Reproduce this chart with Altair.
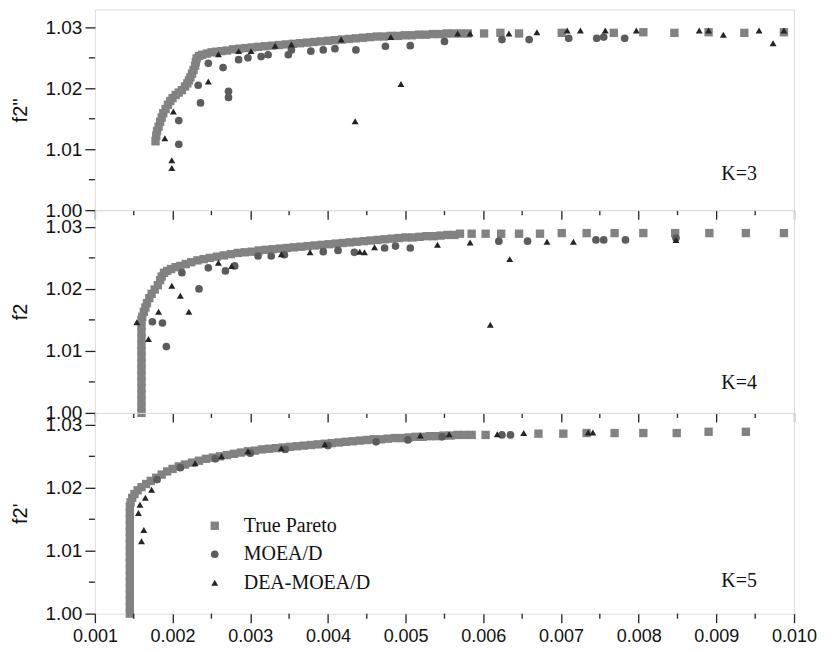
import altair as alt
import pandas as pd

SERIES = ["True Pareto", "MOEA/D", "DEA-MOEA/D"]

x_major = [0.001, 0.002, 0.003, 0.004, 0.005, 0.006, 0.007, 0.008, 0.009, 0.010]
x_minor = [0.0015, 0.0025, 0.0035, 0.0045, 0.0055, 0.0065, 0.0075, 0.0085, 0.0095]
y_major = [1.00, 1.01, 1.02, 1.03]
y_minor = [1.005, 1.015, 1.025]

# ---------------- K = 3 ----------------
k3_pareto = [
    (0.00178, 1.0113), (0.00179, 1.0122), (0.00180, 1.0130), (0.00182, 1.0137), (0.00184, 1.0145),
    (0.00186, 1.0152), (0.00188, 1.0159), (0.00191, 1.0166), (0.00194, 1.0173), (0.00197, 1.0179),
    (0.00200, 1.0184), (0.00204, 1.0189), (0.00208, 1.0193), (0.00212, 1.0197), (0.00216, 1.0203),
    (0.00219, 1.0208), (0.00221, 1.0213), (0.00223, 1.0218), (0.00225, 1.0224), (0.00227, 1.0230),
    (0.00229, 1.0237), (0.00230, 1.0243), (0.00231, 1.0249), (0.00234, 1.0253), (0.00238, 1.0255),
    (0.00244, 1.0257), (0.00250, 1.0259), (0.00256, 1.0260), (0.00263, 1.0261), (0.00270, 1.0262),
    (0.00278, 1.0264), (0.00286, 1.0265), (0.00294, 1.0266), (0.00302, 1.0267), (0.00310, 1.0268),
    (0.00319, 1.0269), (0.00328, 1.0270), (0.00337, 1.0271), (0.00346, 1.0272), (0.00355, 1.0273),
    (0.00364, 1.0274), (0.00373, 1.0275), (0.00382, 1.0276), (0.00391, 1.0277), (0.00400, 1.0278),
    (0.00409, 1.0279), (0.00418, 1.0280), (0.00427, 1.0281), (0.00436, 1.0282), (0.00445, 1.0283),
    (0.00454, 1.0284), (0.00463, 1.0285), (0.00472, 1.0285), (0.00481, 1.0286), (0.00490, 1.0286),
    (0.00499, 1.0287), (0.00508, 1.0287), (0.00517, 1.0288), (0.00526, 1.0288), (0.00535, 1.0289),
    (0.00544, 1.0289), (0.00553, 1.0290), (0.00562, 1.0290), (0.00571, 1.0290), (0.00580, 1.0290),
    (0.00601, 1.0290), (0.00622, 1.0291), (0.00646, 1.0290), (0.00701, 1.0291), (0.00768, 1.0291),
    (0.00806, 1.0292), (0.00846, 1.0291), (0.00890, 1.0292), (0.00936, 1.0291), (0.00987, 1.0292),
]
k3_moead = [
    (0.00208, 1.0108), (0.00208, 1.0147), (0.00236, 1.0176), (0.00233, 1.0205), (0.00246, 1.0241),
    (0.00265, 1.0234), (0.00272, 1.0195), (0.00272, 1.0185), (0.00285, 1.0247), (0.00297, 1.0250),
    (0.00314, 1.0252), (0.00323, 1.0255), (0.00349, 1.0255), (0.00353, 1.0263), (0.00378, 1.0261),
    (0.00394, 1.0263), (0.00409, 1.0265), (0.00436, 1.0263), (0.00474, 1.0269), (0.00506, 1.0270),
    (0.00550, 1.0277), (0.00624, 1.0280), (0.00659, 1.0280), (0.00710, 1.0282), (0.00746, 1.0282),
    (0.00755, 1.0284), (0.00782, 1.0282),
]
k3_dea = [
    (0.00199, 1.0069), (0.00199, 1.0082), (0.00190, 1.0118), (0.00201, 1.0162), (0.00246, 1.0211),
    (0.00259, 1.0256), (0.00285, 1.0261), (0.00301, 1.0261), (0.00332, 1.0270), (0.00353, 1.0272),
    (0.00417, 1.0280), (0.00435, 1.0146), (0.00481, 1.0284), (0.00494, 1.0207), (0.00567, 1.0290),
    (0.00583, 1.0290), (0.00633, 1.0290), (0.00669, 1.0292), (0.00708, 1.0295), (0.00725, 1.0295),
    (0.00757, 1.0295), (0.00797, 1.0295), (0.00878, 1.0295), (0.00890, 1.0295), (0.00909, 1.0288),
    (0.00955, 1.0295), (0.00973, 1.0274), (0.00987, 1.0295),
]

# ---------------- K = 4 ----------------
k4_pareto = [
    (0.00160, 1.0000), (0.00160, 1.0010), (0.00160, 1.0020), (0.00160, 1.0030), (0.00160, 1.0040),
    (0.00160, 1.0050), (0.00160, 1.0060), (0.00160, 1.0070), (0.00160, 1.0080), (0.00160, 1.0090),
    (0.00160, 1.0100), (0.00160, 1.0110), (0.00160, 1.0120), (0.00160, 1.0130), (0.00160, 1.0140),
    (0.00160, 1.0150), (0.00161, 1.0155), (0.00163, 1.0163), (0.00165, 1.0170), (0.00167, 1.0177),
    (0.00170, 1.0185), (0.00173, 1.0192), (0.00177, 1.0199), (0.00181, 1.0206), (0.00184, 1.0214),
    (0.00186, 1.0220), (0.00189, 1.0226), (0.00193, 1.0229), (0.00198, 1.0232), (0.00204, 1.0235),
    (0.00210, 1.0237), (0.00217, 1.0240), (0.00224, 1.0243), (0.00232, 1.0246), (0.00240, 1.0248),
    (0.00248, 1.0250), (0.00257, 1.0252), (0.00266, 1.0254), (0.00275, 1.0256), (0.00284, 1.0258),
    (0.00293, 1.0259), (0.00302, 1.0260), (0.00311, 1.0262), (0.00320, 1.0263), (0.00329, 1.0264),
    (0.00338, 1.0265), (0.00347, 1.0266), (0.00356, 1.0267), (0.00365, 1.0268), (0.00374, 1.0269),
    (0.00383, 1.0270), (0.00392, 1.0271), (0.00401, 1.0272), (0.00410, 1.0273), (0.00419, 1.0274),
    (0.00428, 1.0275), (0.00437, 1.0276), (0.00446, 1.0277), (0.00455, 1.0278), (0.00464, 1.0279),
    (0.00473, 1.0280), (0.00482, 1.0281), (0.00491, 1.0282), (0.00500, 1.0283), (0.00509, 1.0283),
    (0.00518, 1.0284), (0.00527, 1.0285), (0.00536, 1.0285), (0.00545, 1.0286), (0.00554, 1.0287),
    (0.00563, 1.0287), (0.00570, 1.0289), (0.00585, 1.0289), (0.00603, 1.0289), (0.00623, 1.0289),
    (0.00646, 1.0289), (0.00673, 1.0289), (0.00701, 1.0290), (0.00733, 1.0290), (0.00769, 1.0290),
    (0.00806, 1.0290), (0.00847, 1.0290), (0.00891, 1.0290), (0.00938, 1.0290), (0.00987, 1.0290),
]
k4_moead = [
    (0.00192, 1.0107), (0.00187, 1.0145), (0.00174, 1.0147), (0.00234, 1.0200), (0.00212, 1.0226),
    (0.00246, 1.0234), (0.00268, 1.0229), (0.00280, 1.0237), (0.00310, 1.0253), (0.00327, 1.0253),
    (0.00344, 1.0255), (0.00394, 1.0260), (0.00413, 1.0262), (0.00434, 1.0259), (0.00473, 1.0266),
    (0.00487, 1.0269), (0.00506, 1.0266), (0.00620, 1.0277), (0.00657, 1.0277), (0.00745, 1.0279),
    (0.00755, 1.0279), (0.00783, 1.0279), (0.00848, 1.0282),
]
k4_dea = [
    (0.00154, 1.0146), (0.00169, 1.0119), (0.00182, 1.0163), (0.00199, 1.0205), (0.00210, 1.0189),
    (0.00221, 1.0163), (0.00259, 1.0242), (0.00276, 1.0237), (0.00340, 1.0256), (0.00377, 1.0259),
    (0.00441, 1.0260), (0.00447, 1.0259), (0.00460, 1.0267), (0.00541, 1.0271), (0.00583, 1.0275),
    (0.00609, 1.0142), (0.00634, 1.0248), (0.00682, 1.0276), (0.00716, 1.0276), (0.00848, 1.0279),
]

# ---------------- K = 5 ----------------
k5_pareto = [
    (0.00145, 1.0000), (0.00145, 1.0010), (0.00145, 1.0020), (0.00145, 1.0030), (0.00145, 1.0040),
    (0.00145, 1.0050), (0.00145, 1.0060), (0.00145, 1.0070), (0.00145, 1.0080), (0.00145, 1.0090),
    (0.00145, 1.0100), (0.00145, 1.0110), (0.00145, 1.0120), (0.00145, 1.0130), (0.00145, 1.0140),
    (0.00145, 1.0150), (0.00145, 1.0160), (0.00145, 1.0170), (0.00146, 1.0177), (0.00148, 1.0184),
    (0.00151, 1.0190), (0.00155, 1.0196), (0.00160, 1.0201), (0.00166, 1.0206), (0.00172, 1.0211),
    (0.00179, 1.0216), (0.00186, 1.0221), (0.00193, 1.0226), (0.00200, 1.0230), (0.00208, 1.0234),
    (0.00216, 1.0237), (0.00225, 1.0240), (0.00234, 1.0243), (0.00243, 1.0246), (0.00252, 1.0248),
    (0.00261, 1.0250), (0.00270, 1.0252), (0.00279, 1.0254), (0.00288, 1.0256), (0.00297, 1.0258),
    (0.00306, 1.0259), (0.00315, 1.0261), (0.00324, 1.0262), (0.00333, 1.0263), (0.00342, 1.0264),
    (0.00351, 1.0265), (0.00360, 1.0266), (0.00369, 1.0267), (0.00378, 1.0268), (0.00387, 1.0269),
    (0.00396, 1.0270), (0.00405, 1.0271), (0.00414, 1.0272), (0.00423, 1.0273), (0.00432, 1.0274),
    (0.00441, 1.0275), (0.00450, 1.0276), (0.00459, 1.0277), (0.00468, 1.0277), (0.00477, 1.0278),
    (0.00486, 1.0279), (0.00495, 1.0279), (0.00504, 1.0280), (0.00513, 1.0281), (0.00522, 1.0281),
    (0.00531, 1.0282), (0.00540, 1.0282), (0.00549, 1.0283), (0.00558, 1.0283), (0.00567, 1.0284),
    (0.00576, 1.0284), (0.00585, 1.0284), (0.00603, 1.0284), (0.00671, 1.0286), (0.00703, 1.0286),
    (0.00733, 1.0287), (0.00769, 1.0287), (0.00806, 1.0287), (0.00849, 1.0287), (0.00890, 1.0289),
    (0.00938, 1.0289),
]
k5_moead = [
    (0.00180, 1.0213), (0.00210, 1.0232), (0.00255, 1.0246), (0.00300, 1.0255), (0.00345, 1.0261),
    (0.00400, 1.0267), (0.00462, 1.0273), (0.00503, 1.0276), (0.00547, 1.0281), (0.00624, 1.0284),
    (0.00635, 1.0284),
]
k5_dea = [
    (0.00163, 1.0133), (0.00160, 1.0115), (0.00156, 1.0160), (0.00158, 1.0173), (0.00165, 1.0184),
    (0.00173, 1.0197), (0.00229, 1.0239), (0.00263, 1.0250), (0.00297, 1.0258), (0.00340, 1.0263),
    (0.00396, 1.0269), (0.00519, 1.0283), (0.00556, 1.0285), (0.00618, 1.0285), (0.00652, 1.0287),
    (0.00735, 1.0288), (0.00741, 1.0288),
]

COLORS = ["#828282", "#5c5c5c", "#242424"]
SHAPES = ["square", "circle", "triangle-up"]
SIZES = [70, 48, 55]
SANS = "Liberation Sans"
SERIF = "Liberation Serif"
W = 700


def frame(parts):
    rows = []
    for name, pts in zip(SERIES, parts):
        for x, y in pts:
            rows.append({"x": x, "y": y, "series": name})
    return pd.DataFrame(rows)


def panel(parts, ytitle, ytop, height, bottom, klabel, kx, ky):
    xscale = alt.Scale(domain=[0.001, 0.010], nice=False, zero=False)
    yscale = alt.Scale(domain=[1.0, ytop], nice=False, zero=False)
    xaxis = alt.Axis(
        values=x_major, format=".3f", labels=bottom, labelFlush=False, tickSize=9,
        tickWidth=1.3, tickColor="#222", domain=False, grid=False, title=None,
        labelFont=SANS, labelFontSize=18, labelColor="#111", labelPadding=5)
    yaxis = alt.Axis(
        values=y_major, format=".2f", tickSize=10, tickWidth=1.3, tickColor="#222",
        domain=False, grid=False, title=ytitle, titleFont=SANS, titleFontSize=20,
        titleFontWeight="normal", titleColor="#111", titlePadding=14,
        labelFont=SANS, labelFontSize=19, labelColor="#111", labelPadding=3)
    if bottom:
        legend = alt.Legend(
            orient="none", legendX=110, legendY=103, title=None,
            labelFont=SERIF, labelFontSize=20, labelColor="#111",
            symbolSize=40, symbolStrokeWidth=0, rowPadding=8.5, labelOffset=19,
        )
    else:
        legend = None
    pts = alt.Chart(frame(parts)).mark_point(filled=True, opacity=1, strokeWidth=0).encode(
        x=alt.X("x:Q", scale=xscale, axis=xaxis, title=None),
        y=alt.Y("y:Q", scale=yscale, axis=yaxis, title=ytitle),
        color=alt.Color("series:N", scale=alt.Scale(domain=SERIES, range=COLORS), legend=legend),
        shape=alt.Shape("series:N", scale=alt.Scale(domain=SERIES, range=SHAPES), legend=legend),
        size=alt.Size("series:N", scale=alt.Scale(domain=SERIES, range=SIZES), legend=None),
    )
    xmin = alt.Chart(pd.DataFrame({"x": x_minor})).mark_rule(color="#222", strokeWidth=1.3).encode(
        x=alt.X("x:Q", scale=xscale, axis=xaxis, title=None),
        y=alt.value(height), y2=alt.value(height + 5),
    )
    ymin = alt.Chart(pd.DataFrame({"y": y_minor})).mark_rule(color="#222", strokeWidth=1.3).encode(
        y=alt.Y("y:Q", scale=yscale, axis=yaxis, title=ytitle),
        x=alt.value(0), x2=alt.value(-6),
    )
    txt = alt.Chart(pd.DataFrame({"label": [klabel]})).mark_text(
        font=SERIF, fontSize=20, color="#111", align="center", baseline="middle"
    ).encode(text="label:N", x=alt.value(kx), y=alt.value(ky))
    return alt.layer(pts, xmin, ymin, txt).properties(width=W, height=height)


p1 = panel([k3_pareto, k3_moead, k3_dea], "f2''", 1.03295, 201, False, "K=3", 645, 165)
p2 = panel([k4_pareto, k4_moead, k4_dea], "f2", 1.0327, 203, False, "K=4", 645, 173)
p3 = panel([k5_pareto, k5_moead, k5_dea], "f2'", 1.0319, 201, True, "K=5", 645, 168)

chart = alt.vconcat(p1, p2, p3, spacing=0, bounds="flush").resolve_scale(
    color="independent", shape="independent", size="independent"
).properties(
    padding={"left": 2, "top": 0, "right": 0, "bottom": 0}
).configure_view(stroke="#1a1a1a", strokeWidth=1.5).configure(background="white")

chart.save("out.html", embed_options={"renderer": "svg", "actions": False})
